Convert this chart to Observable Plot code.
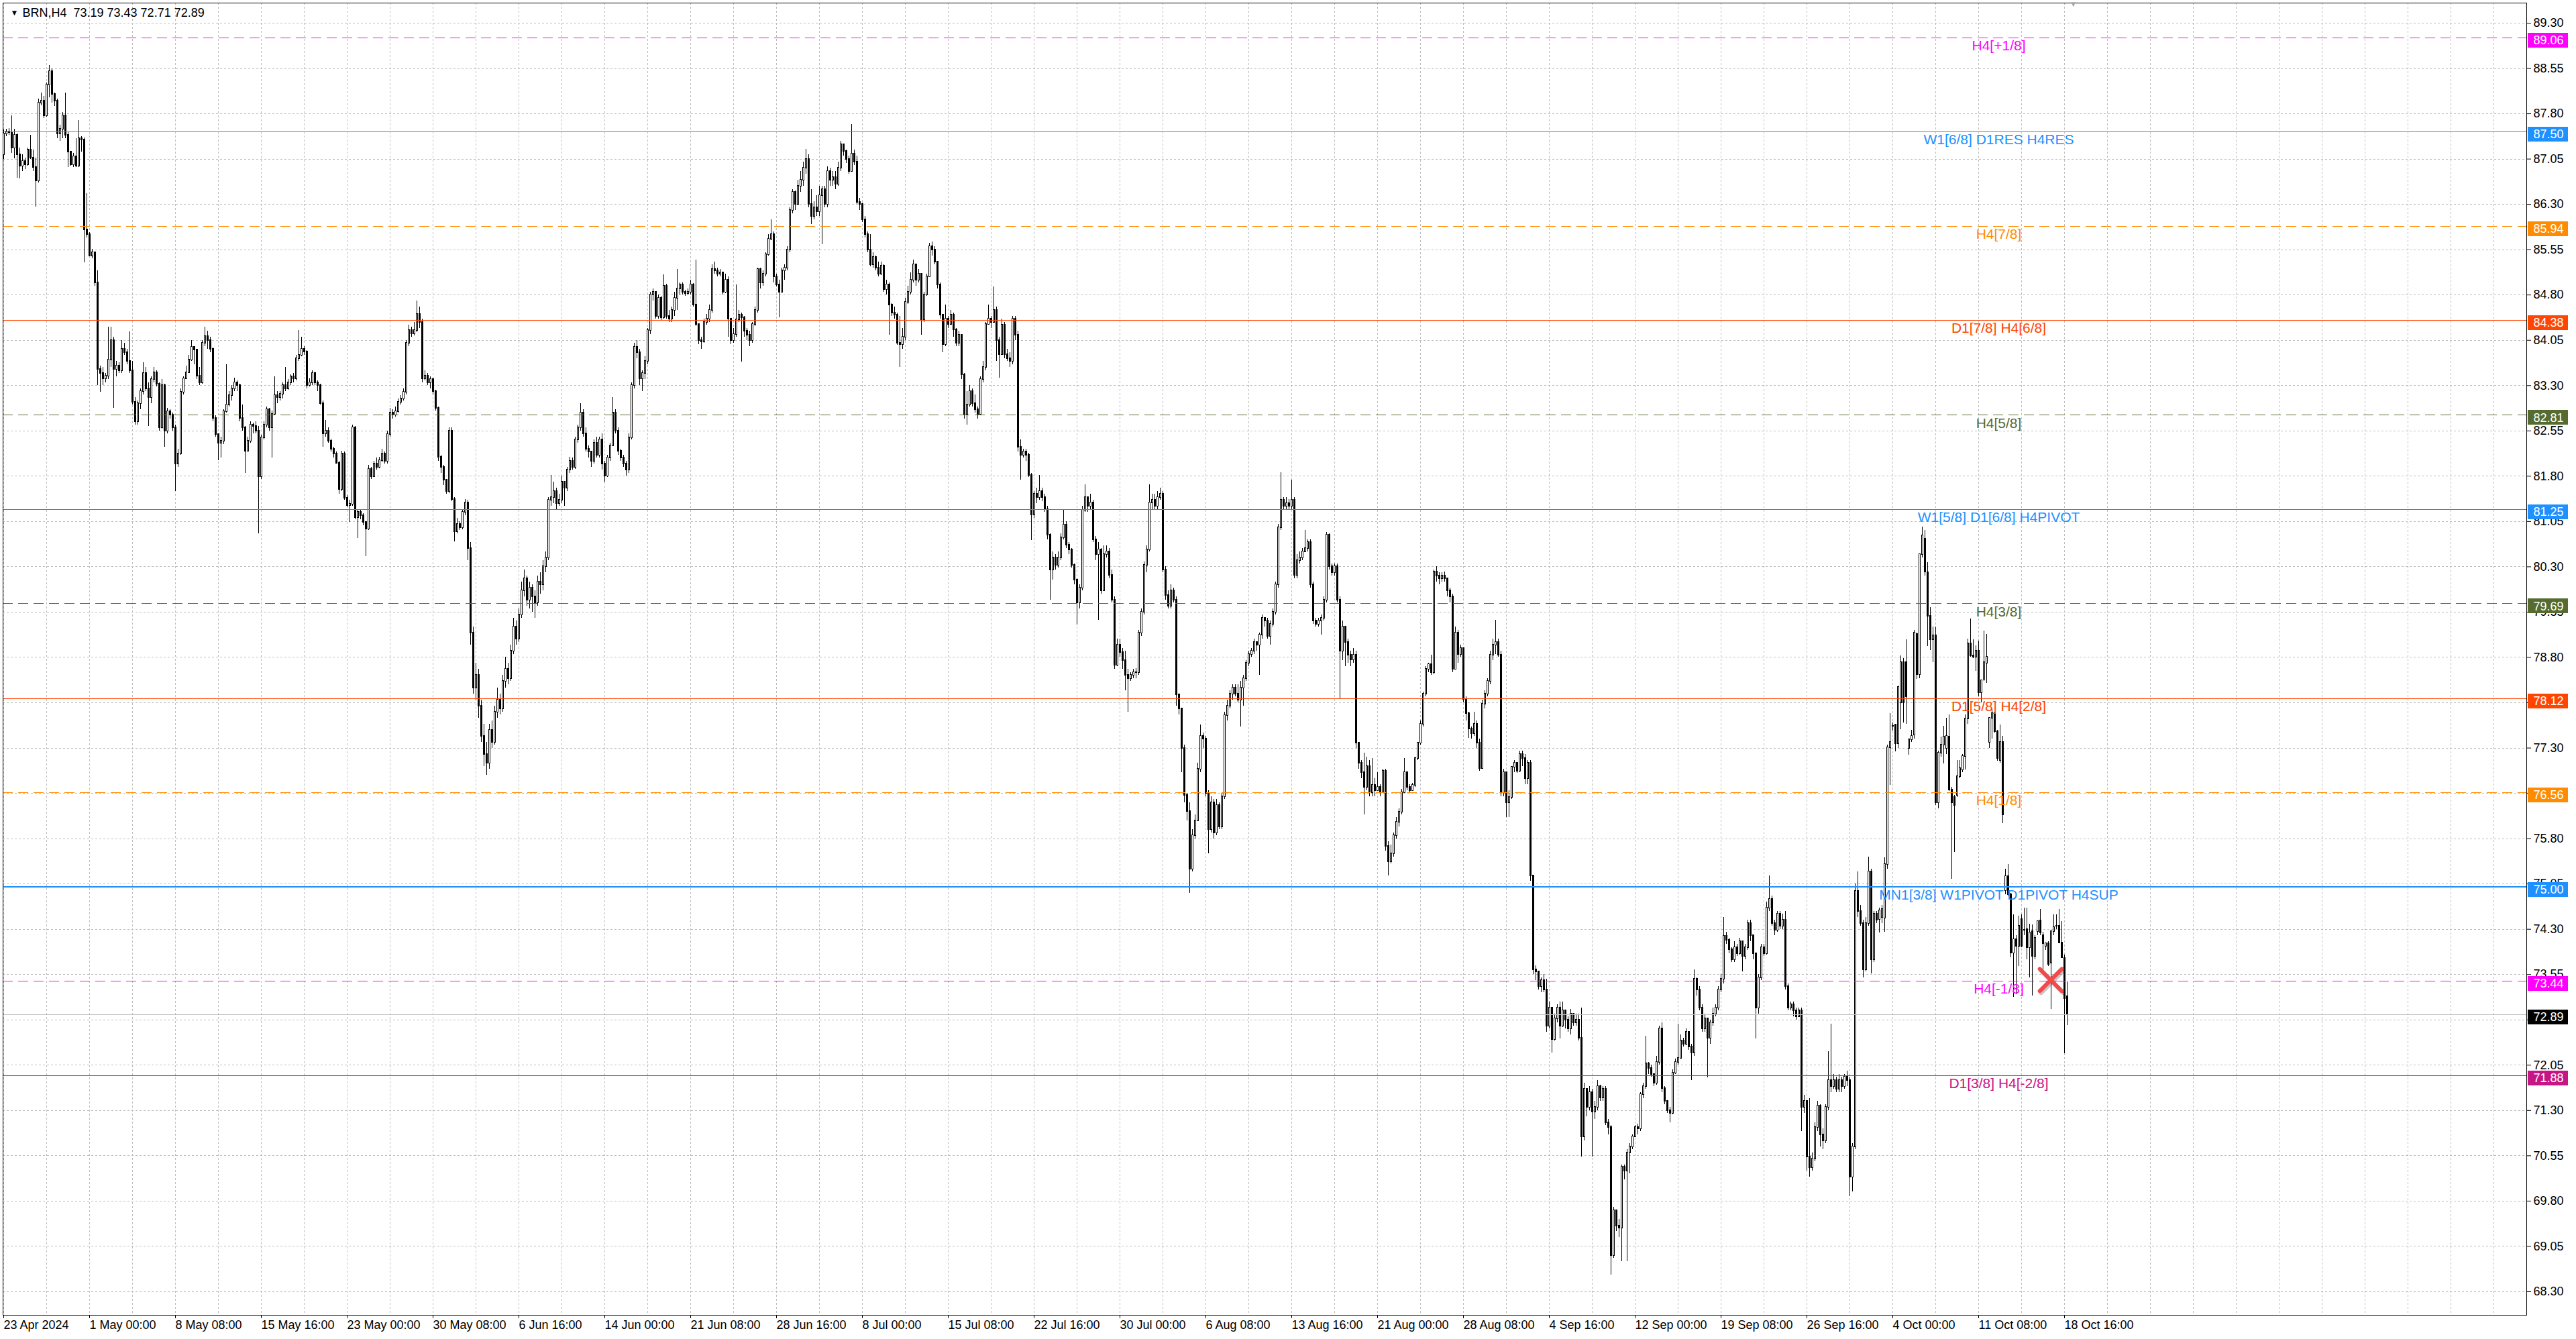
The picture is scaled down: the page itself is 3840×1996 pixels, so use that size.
<!DOCTYPE html>
<html><head><meta charset="utf-8">
<script src="https://cdn.jsdelivr.net/npm/d3@7"></script>
<script src="https://cdn.jsdelivr.net/npm/@observablehq/plot@0.6"></script>
<style>
html,body{margin:0;padding:0;background:#fff;}
#chart svg{display:block;}
</style></head><body><div id="chart"></div>
<script>
const symbolName = "BRN,H4";
const lastQuote = [73.19, 73.43, 72.71, 72.89];

// H4 candles, one row per bar: [open, high, low, close]
const ohlc = [
[87.12,87.53,87.05,87.47],[87.47,87.55,87.42,87.50],[87.50,87.56,87.44,87.49],[87.49,87.77,87.15,87.23],[87.23,87.55,87.06,87.44],
[87.44,87.47,86.74,87.12],[87.12,87.23,86.72,86.93],[86.93,87.12,86.85,87.01],[87.01,87.07,86.88,86.96],[86.96,87.23,86.93,87.20],
[87.20,87.44,87.04,87.07],[87.07,87.20,86.85,86.91],[86.91,87.07,86.26,86.69],[86.69,88.04,86.66,87.98],[87.98,88.14,87.93,88.01],
[88.01,88.09,87.72,87.77],[87.77,88.31,87.74,88.28],[88.28,88.60,88.07,88.50],[88.50,88.55,87.98,88.12],[88.12,88.15,87.92,88.01],
[88.01,88.04,87.39,87.47],[87.47,87.61,87.35,87.55],[87.55,87.82,87.39,87.77],[87.77,88.14,87.39,87.44],[87.44,87.50,86.91,87.17],
[87.17,87.17,86.93,86.96],[86.96,87.14,86.91,87.09],[87.09,87.39,86.91,86.93],[86.93,87.69,86.91,87.39],[87.39,87.42,87.17,87.37],
[87.37,87.40,85.34,85.88],[85.88,86.48,85.75,85.80],[85.80,85.83,85.43,85.45],[85.45,85.56,85.40,85.50],[85.50,85.51,84.95,85.00],
[85.00,85.20,83.30,83.57],[83.57,83.62,83.19,83.50],[83.50,83.60,83.30,83.41],[83.41,83.50,83.35,83.46],[83.46,84.27,83.40,83.73],
[83.73,84.27,83.60,84.05],[84.05,84.10,82.92,83.57],[83.57,83.70,83.45,83.62],[83.62,83.68,83.50,83.55],[83.55,84.05,83.50,83.90],
[83.90,84.00,83.80,83.85],[83.85,83.90,83.65,83.70],[83.70,84.19,83.50,83.55],[83.55,83.70,82.98,83.03],[83.03,83.10,82.65,82.70],
[82.70,83.05,82.65,83.00],[83.00,83.25,82.90,83.20],[83.20,83.68,83.15,83.50],[83.50,83.60,83.20,83.25],[83.25,83.35,82.62,83.10],
[83.10,83.45,83.00,83.40],[83.40,83.60,83.35,83.51],[83.51,83.55,83.28,83.33],[83.33,83.35,82.55,82.60],[82.60,83.40,82.58,83.30],
[83.30,83.32,82.28,82.55],[82.55,82.92,82.50,82.87],[82.87,82.90,82.75,82.81],[82.81,82.85,82.55,82.60],[82.60,82.65,81.55,82.00],
[82.00,82.25,81.95,82.17],[82.17,83.25,82.15,83.19],[83.19,83.45,83.15,83.41],[83.41,83.62,83.40,83.51],[83.51,83.80,83.50,83.73],
[83.73,84.05,83.70,83.94],[83.94,83.95,83.65,83.89],[83.89,83.90,83.40,83.46],[83.46,83.60,83.30,83.35],[83.35,84.05,83.33,84.00],
[84.00,84.27,83.95,84.11],[84.11,84.20,83.90,84.05],[84.05,84.10,83.85,83.90],[83.90,83.92,82.70,82.76],[82.76,82.80,82.45,82.49],
[82.49,82.50,82.06,82.35],[82.35,82.45,82.10,82.38],[82.38,82.90,82.33,82.87],[82.87,83.65,82.85,82.98],[82.98,83.20,82.95,83.14],
[83.14,83.30,83.05,83.25],[83.25,83.42,83.20,83.35],[83.35,83.38,83.20,83.30],[83.30,83.32,82.70,82.76],[82.76,82.98,82.55,82.60],
[82.60,82.62,81.85,82.22],[82.22,82.45,82.20,82.38],[82.38,82.70,82.35,82.65],[82.65,82.68,82.50,82.62],[82.62,82.70,82.50,82.55],
[82.55,82.62,80.85,81.79],[81.79,82.48,81.75,82.44],[82.44,82.70,82.40,82.65],[82.65,82.95,82.60,82.90],[82.90,82.92,82.55,82.60],
[82.60,82.88,82.10,82.83],[82.83,83.45,82.80,83.14],[83.14,83.20,83.00,83.10],[83.10,83.20,83.05,83.16],[83.16,83.35,83.08,83.30],
[83.30,83.60,83.20,83.25],[83.25,83.40,83.22,83.35],[83.35,83.48,83.30,83.45],[83.45,83.50,83.35,83.41],[83.41,83.80,83.38,83.75],
[83.75,84.21,83.70,83.80],[83.80,84.10,83.78,83.90],[83.90,83.95,83.80,83.86],[83.86,83.88,83.25,83.30],[83.30,83.41,83.28,83.35],
[83.35,83.55,83.30,83.50],[83.50,83.52,83.30,83.35],[83.35,83.38,83.20,83.30],[83.30,83.32,82.98,83.00],[83.00,83.05,82.28,82.50],
[82.50,82.72,82.45,82.55],[82.55,82.60,82.35,82.38],[82.38,82.42,82.20,82.25],[82.25,82.28,82.10,82.17],[82.17,82.20,82.00,82.01],
[82.01,82.05,81.50,81.58],[81.58,82.22,81.55,82.17],[82.17,82.20,81.40,81.44],[81.44,81.48,81.28,81.31],[81.31,81.40,81.04,81.34],
[81.34,82.65,81.30,82.60],[82.60,82.62,81.08,81.12],[81.12,81.25,80.77,81.20],[81.20,81.25,81.08,81.15],[81.15,81.18,80.98,81.04],
[81.04,81.05,80.47,80.93],[80.93,81.98,80.90,81.92],[81.92,81.95,81.75,81.79],[81.79,82.05,81.78,82.00],[82.00,82.10,81.90,81.95],
[81.95,82.12,81.93,82.06],[82.06,82.25,82.03,82.17],[82.17,82.20,82.00,82.05],[82.05,82.55,82.00,82.49],[82.49,82.92,82.45,82.85],
[82.85,82.90,82.75,82.81],[82.81,82.95,82.78,82.87],[82.87,83.08,82.85,83.03],[83.03,83.14,82.98,83.08],[83.08,83.25,83.05,83.19],
[83.19,84.05,83.15,84.00],[84.00,84.30,83.95,84.21],[84.21,84.27,84.10,84.16],[84.16,84.35,84.12,84.21],[84.21,84.70,84.18,84.48],
[84.48,84.60,84.25,84.35],[84.35,84.40,83.35,83.41],[83.41,83.55,83.38,83.46],[83.46,83.50,83.30,83.35],[83.35,83.45,83.25,83.40],
[83.40,83.42,83.15,83.20],[83.20,83.22,82.88,82.92],[82.92,82.95,82.05,82.11],[82.11,82.15,81.85,81.95],[81.95,81.98,81.65,81.74],
[81.74,81.75,81.50,81.55],[81.55,82.60,81.52,82.55],[82.55,82.60,81.38,81.42],[81.42,81.45,80.71,80.88],[80.88,81.10,80.85,81.00],
[81.00,81.05,80.90,80.95],[80.95,81.25,80.92,81.20],[81.20,81.42,81.15,81.36],[81.36,81.40,80.40,80.60],[80.60,80.70,79.00,79.20],
[79.20,79.30,78.20,78.30],[78.30,78.70,78.10,78.50],[78.50,78.60,77.80,78.00],[78.00,78.10,77.40,77.50],[77.50,77.70,77.00,77.20],
[77.20,77.40,76.85,77.05],[77.05,77.70,76.95,77.60],[77.60,77.75,77.30,77.40],[77.40,78.00,77.35,77.90],[77.90,78.30,77.80,78.10],
[78.10,78.20,77.85,77.95],[77.95,78.50,77.90,78.40],[78.40,78.80,78.30,78.60],[78.60,78.70,78.35,78.45],[78.45,79.00,78.40,78.90],
[78.90,79.45,78.85,79.30],[79.30,79.40,79.00,79.10],[79.10,79.60,79.05,79.50],[79.50,80.05,79.45,79.90],[79.90,80.25,79.80,80.10],
[80.10,80.15,79.65,79.75],[79.75,80.05,79.60,79.95],[79.95,80.00,79.55,79.80],[79.80,79.90,79.45,79.70],[79.70,80.15,79.65,80.05],
[80.05,80.20,79.85,80.00],[80.00,80.40,79.90,80.30],[80.30,80.55,80.20,80.45],[80.45,81.45,80.40,81.40],[81.40,81.82,81.30,81.45],
[81.45,81.70,81.35,81.55],[81.55,81.60,81.25,81.35],[81.35,81.50,81.30,81.40],[81.40,81.80,81.35,81.70],[81.70,81.72,81.30,81.60],
[81.60,81.95,81.55,81.90],[81.90,82.12,81.85,82.05],[82.05,82.10,81.90,81.95],[81.95,82.45,81.92,82.40],[82.40,82.65,82.35,82.60],
[82.60,83.00,82.55,82.85],[82.85,82.90,82.45,82.50],[82.50,82.60,82.20,82.25],[82.25,82.30,82.10,82.20],[82.20,82.22,81.95,82.05],
[82.05,82.40,82.00,82.35],[82.35,82.45,82.10,82.15],[82.15,82.45,82.10,82.40],[82.40,82.50,81.90,82.00],[82.00,82.05,81.70,81.80],
[81.80,82.15,81.78,82.10],[82.10,82.35,82.05,82.30],[82.30,83.10,82.30,82.85],[82.85,82.90,82.50,82.55],[82.55,82.60,82.15,82.22],
[82.22,82.25,82.05,82.10],[82.10,82.15,81.95,82.00],[82.00,82.05,81.80,81.90],[81.90,82.50,81.85,82.44],[82.44,83.35,82.40,83.30],
[83.30,84.00,83.25,83.94],[83.94,84.05,83.75,83.85],[83.85,83.90,83.30,83.41],[83.41,83.55,83.20,83.50],[83.50,83.78,83.40,83.70],
[83.70,84.25,83.65,84.21],[84.21,84.85,84.15,84.80],[84.80,84.90,84.70,84.85],[84.85,84.85,84.40,84.45],[84.45,84.80,84.40,84.75],
[84.75,84.78,84.38,84.43],[84.43,85.13,84.40,84.95],[84.95,84.98,84.40,84.45],[84.45,84.55,84.35,84.40],[84.40,84.60,84.35,84.55],
[84.55,84.85,84.45,84.75],[84.75,85.22,84.55,84.90],[84.90,85.00,84.80,84.97],[84.97,85.00,84.80,84.85],[84.85,84.88,84.78,84.82],
[84.82,84.90,84.80,84.85],[84.85,85.05,84.80,84.97],[84.97,84.99,84.60,84.64],[84.64,85.38,84.28,84.31],[84.31,84.31,83.98,84.05],
[84.05,84.10,83.90,84.02],[84.02,84.40,84.00,84.35],[84.35,84.48,84.30,84.40],[84.40,84.64,84.35,84.55],[84.55,85.30,84.50,85.22],
[85.22,85.35,85.15,85.20],[85.20,85.25,85.10,85.15],[85.15,85.22,85.10,85.17],[85.17,85.18,84.80,84.85],[84.85,85.15,84.82,85.05],
[85.05,85.10,84.10,84.40],[84.40,84.40,83.98,84.05],[84.05,84.25,84.00,84.15],[84.15,84.97,84.10,84.39],[84.39,84.55,84.35,84.47],
[84.47,84.50,83.69,84.43],[84.43,84.45,84.10,84.20],[84.20,84.25,84.05,84.14],[84.14,84.20,83.95,84.05],[84.05,84.35,84.00,84.31],
[84.31,84.60,84.28,84.55],[84.55,85.25,84.50,85.22],[85.22,85.25,84.90,85.00],[85.00,85.20,84.95,85.15],[85.15,85.50,85.10,85.47],
[85.47,85.80,85.45,85.72],[85.72,86.05,85.70,85.80],[85.80,85.85,85.00,85.10],[85.10,85.15,84.93,84.97],[84.97,85.05,84.43,84.85],
[84.85,85.25,84.85,85.20],[85.20,85.30,85.05,85.25],[85.25,85.60,85.20,85.55],[85.55,86.25,85.50,86.20],[86.20,86.55,86.15,86.50],
[86.50,86.52,86.20,86.30],[86.30,86.70,86.28,86.60],[86.60,86.85,86.50,86.70],[86.70,87.00,86.60,86.90],[86.90,87.21,86.80,87.05],
[87.05,87.12,86.25,86.30],[86.30,86.55,85.97,86.10],[86.10,86.35,86.05,86.25],[86.25,86.45,86.10,86.18],[86.18,86.60,86.10,86.45],
[86.45,86.60,85.63,86.55],[86.55,86.60,86.25,86.30],[86.30,86.92,86.25,86.85],[86.85,86.90,86.60,86.70],[86.70,86.85,86.60,86.75],
[86.75,86.85,86.55,86.63],[86.63,87.00,86.60,86.90],[86.90,87.35,86.85,87.29],[87.29,87.30,87.10,87.18],[87.18,87.20,86.98,87.05],
[87.05,87.10,86.80,86.85],[86.85,87.62,86.85,87.13],[87.13,87.20,86.95,87.00],[87.00,87.10,86.30,86.34],[86.34,86.40,86.20,86.30],
[86.30,86.32,86.00,86.05],[86.05,86.10,85.75,85.80],[85.80,85.85,85.50,85.55],[85.55,85.80,85.27,85.30],[85.30,85.50,85.25,85.42],
[85.42,85.45,85.20,85.25],[85.25,85.35,85.10,85.15],[85.15,85.35,85.12,85.28],[85.28,85.30,84.85,84.89],[84.89,85.05,84.80,84.97],
[84.97,85.00,84.14,84.64],[84.64,84.66,84.45,84.50],[84.50,84.60,84.40,84.47],[84.47,84.50,83.97,84.00],[84.00,84.45,83.60,83.98],
[83.98,84.25,83.90,84.10],[84.10,84.75,84.05,84.68],[84.68,84.95,84.65,84.85],[84.85,85.17,84.80,85.05],[85.05,85.38,85.00,85.30],
[85.30,85.30,84.95,85.05],[85.05,85.22,85.00,85.15],[85.15,85.15,84.14,84.39],[84.39,84.85,84.35,84.80],[84.80,85.15,84.78,85.10],
[85.10,85.66,85.10,85.60],[85.60,85.68,85.45,85.55],[85.55,85.60,85.30,85.35],[85.35,85.35,84.90,84.97],[84.97,85.00,84.40,84.47],
[84.47,84.47,83.85,83.98],[83.98,84.64,83.95,84.40],[84.40,84.45,84.25,84.31],[84.31,84.55,84.30,84.47],[84.47,84.50,84.10,84.22],
[84.22,84.25,83.95,84.00],[84.00,84.20,83.95,84.14],[84.14,84.15,83.40,83.48],[83.48,83.50,82.75,82.82],[82.82,83.20,82.65,82.98],
[82.98,83.30,82.95,83.20],[83.20,83.25,82.95,83.00],[83.00,83.15,82.85,82.90],[82.90,82.95,82.75,82.82],[82.82,83.45,82.80,83.40],
[83.40,83.70,83.35,83.60],[83.60,84.35,83.55,84.31],[84.31,84.64,84.30,84.40],[84.40,84.45,84.25,84.35],[84.35,84.93,84.35,84.55],
[84.55,84.60,83.70,84.05],[84.05,84.10,83.43,83.81],[83.81,84.40,83.80,84.30],[84.30,84.35,83.75,83.81],[83.81,83.90,83.70,83.75],
[83.75,83.85,83.60,83.70],[83.70,84.45,83.65,84.40],[84.40,84.45,84.05,84.14],[84.14,84.20,82.20,82.28],[82.28,82.40,81.74,82.15],
[82.15,82.25,82.10,82.20],[82.20,82.25,82.05,82.15],[82.15,82.18,81.78,81.82],[81.82,81.85,80.74,81.16],[81.16,81.55,81.10,81.50],
[81.50,81.60,81.35,81.45],[81.45,81.82,81.40,81.55],[81.55,81.60,81.38,81.45],[81.45,81.50,81.20,81.25],[81.25,81.30,80.75,80.83],
[80.83,80.85,79.75,80.25],[80.25,80.55,80.08,80.45],[80.45,80.50,80.25,80.33],[80.33,80.55,80.28,80.45],[80.45,80.85,80.40,80.78],
[80.78,81.24,80.75,80.99],[80.99,81.05,80.60,80.66],[80.66,80.70,80.50,80.58],[80.58,80.60,80.28,80.33],[80.33,80.35,80.00,80.08],
[80.08,80.10,79.34,79.71],[79.71,80.00,79.60,79.95],[79.95,81.30,79.90,81.24],[81.24,81.66,81.20,81.45],[81.45,81.45,81.20,81.30],
[81.30,81.50,81.25,81.36],[81.36,81.40,80.70,80.75],[80.75,80.80,80.40,80.50],[80.50,80.70,79.42,80.58],[80.58,80.60,79.85,79.90],
[79.90,80.65,79.90,80.50],[80.50,80.65,80.45,80.55],[80.55,80.60,80.10,80.16],[80.16,80.25,79.70,79.75],[79.75,79.80,78.60,78.67],
[78.67,79.10,78.65,79.00],[79.00,79.10,78.80,78.88],[78.88,78.95,78.60,78.75],[78.75,78.90,78.25,78.51],[78.51,78.60,77.89,78.45],
[78.45,78.55,78.40,78.50],[78.50,78.60,78.45,78.55],[78.55,78.62,78.45,78.55],[78.55,79.25,78.50,79.20],[79.20,79.60,79.15,79.55],
[79.55,80.38,79.50,80.33],[80.33,80.65,80.20,80.58],[80.58,81.66,80.55,81.36],[81.36,81.50,81.25,81.40],[81.40,81.50,81.25,81.30],
[81.30,81.55,81.25,81.45],[81.45,81.60,81.40,81.50],[81.50,81.55,80.20,80.25],[80.25,80.30,79.75,79.83],[79.83,79.90,79.60,79.65],
[79.65,80.00,79.60,79.90],[79.90,79.95,79.70,79.75],[79.75,79.80,78.00,78.18],[78.18,78.20,77.85,77.95],[77.95,77.95,76.90,77.30],
[77.30,77.35,76.40,76.52],[76.52,76.55,76.10,76.25],[76.25,76.40,74.90,75.30],[75.30,75.95,75.25,75.85],[75.85,76.20,75.80,76.10],
[76.10,77.05,76.10,76.95],[76.95,77.68,76.90,77.50],[77.50,77.55,77.30,77.45],[77.45,77.50,76.50,76.55],[76.55,76.60,75.55,75.95],
[75.95,76.50,75.90,76.40],[76.40,76.45,75.80,75.90],[75.90,76.45,75.85,76.35],[76.35,76.40,75.95,76.00],[76.00,76.55,75.95,76.50],
[76.50,77.90,76.45,77.84],[77.84,78.10,77.75,78.00],[78.00,78.25,77.95,78.20],[78.20,78.35,78.10,78.30],[78.30,78.35,78.15,78.20],
[78.20,78.35,78.05,78.10],[78.10,78.40,77.65,78.30],[78.30,78.50,78.00,78.45],[78.45,78.75,78.40,78.70],[78.70,78.90,78.65,78.85],
[78.85,78.95,78.80,78.90],[78.90,79.10,78.85,79.05],[79.05,79.05,78.90,79.00],[79.00,79.20,78.50,79.17],[79.17,79.50,79.10,79.45],
[79.45,79.45,79.30,79.40],[79.40,79.45,79.10,79.15],[79.15,79.40,79.00,79.35],[79.35,79.60,79.30,79.55],[79.55,80.05,79.50,80.00],
[80.00,81.00,79.95,80.95],[80.95,81.86,80.90,81.40],[81.40,81.45,81.25,81.30],[81.30,81.45,81.25,81.35],[81.35,81.42,81.25,81.30],
[81.30,81.74,81.25,81.40],[81.40,81.45,80.10,80.16],[80.16,80.50,80.10,80.40],[80.40,80.55,80.35,80.45],[80.45,80.60,80.40,80.55],
[80.55,80.90,80.55,80.60],[80.60,80.75,80.55,80.70],[80.70,80.75,79.95,80.00],[80.00,80.05,79.35,79.40],[79.40,79.45,79.30,79.35],
[79.35,79.45,79.30,79.40],[79.40,79.50,79.17,79.45],[79.45,79.80,79.40,79.75],[79.75,80.87,79.70,80.83],[80.83,80.85,80.25,80.30],
[80.30,80.35,80.15,80.20],[80.20,80.35,80.15,80.30],[80.30,80.35,79.70,79.75],[79.75,79.80,78.12,78.90],[78.90,79.40,78.75,79.30],
[79.30,79.30,78.65,79.05],[79.05,79.10,78.70,78.84],[78.84,78.90,78.65,78.76],[78.76,78.95,78.70,78.84],[78.84,78.90,77.30,77.38],
[77.38,77.40,76.95,77.05],[77.05,77.10,76.80,76.89],[76.89,77.22,76.20,76.65],[76.65,77.15,76.60,77.00],[77.00,77.10,76.50,76.56],
[76.56,77.13,76.50,76.68],[76.68,76.80,76.50,76.60],[76.60,76.90,76.58,76.65],[76.65,76.70,76.50,76.56],[76.56,76.95,76.55,76.92],
[76.92,76.95,75.60,75.67],[75.67,75.75,75.18,75.42],[75.42,75.70,75.38,75.55],[75.55,75.90,75.50,75.85],[75.85,76.15,75.80,76.07],
[76.07,76.30,76.00,76.24],[76.24,76.62,76.20,76.56],[76.56,77.13,76.55,76.89],[76.89,76.90,76.60,76.65],[76.65,76.70,76.55,76.60],
[76.60,76.72,76.58,76.68],[76.68,77.15,76.65,77.13],[77.13,77.40,77.10,77.38],[77.38,77.75,77.35,77.70],[77.70,78.23,77.65,78.19],
[78.19,78.65,78.15,78.60],[78.60,78.70,78.55,78.68],[78.68,78.84,78.50,78.55],[78.55,80.25,78.52,80.22],[80.22,80.31,80.05,80.15],
[80.15,80.20,80.00,80.10],[80.10,80.20,80.05,80.15],[80.15,80.22,80.05,80.10],[80.10,80.10,79.80,79.90],[79.90,79.95,79.70,79.80],
[79.80,79.85,78.55,78.60],[78.60,79.30,78.60,79.20],[79.20,79.25,78.70,78.85],[78.85,79.00,78.80,78.95],[78.95,78.95,78.05,78.11],
[78.11,78.15,77.75,77.87],[77.87,77.90,77.46,77.62],[77.62,77.65,77.45,77.54],[77.54,77.90,77.50,77.70],[77.70,77.75,77.30,77.38],
[77.38,77.45,76.92,76.96],[76.96,78.10,76.95,78.03],[78.03,78.25,77.95,78.19],[78.19,78.45,78.15,78.40],[78.40,78.90,78.35,78.84],
[78.84,79.10,78.75,79.00],[79.00,79.42,78.85,79.05],[79.05,79.10,78.80,78.84],[78.84,78.90,76.50,76.56],[76.56,76.95,76.50,76.89],
[76.89,76.90,76.15,76.40],[76.40,76.60,76.15,76.48],[76.48,77.00,76.45,76.98],[76.98,77.10,76.90,77.05],[77.05,77.05,76.88,76.92],
[76.92,77.25,76.90,77.20],[77.20,77.25,77.00,77.13],[77.13,77.20,76.70,76.80],[76.80,77.10,76.70,77.05],[77.05,77.10,75.10,75.18],
[75.18,75.20,73.55,73.63],[73.63,73.70,73.45,73.60],[73.60,73.60,73.30,73.35],[73.35,73.50,73.25,73.45],[73.45,73.55,73.25,73.30],
[73.30,73.47,72.60,72.70],[72.70,73.10,72.65,73.00],[73.00,73.00,72.25,72.48],[72.48,72.90,72.45,72.82],[72.82,73.05,72.75,73.00],
[73.00,73.10,72.49,72.70],[72.70,73.10,72.68,72.95],[72.95,72.95,72.65,72.80],[72.80,72.85,72.60,72.65],[72.65,72.98,72.55,72.90],
[72.90,72.90,72.70,72.75],[72.75,72.90,72.70,72.80],[72.80,72.90,72.45,72.50],[72.50,73.00,70.53,70.86],[70.86,71.75,70.80,71.65],
[71.65,71.65,71.20,71.35],[71.35,71.70,71.30,71.60],[71.60,71.65,70.53,71.28],[71.28,71.45,71.15,71.35],[71.35,71.80,71.30,71.70],
[71.70,71.72,71.45,71.51],[71.51,71.70,71.45,71.65],[71.65,71.70,71.05,71.10],[71.10,71.15,70.90,71.02],[71.02,71.05,68.58,68.90],
[68.90,69.70,68.85,69.64],[69.64,69.65,69.30,69.39],[69.39,69.50,69.20,69.35],[69.35,70.40,68.80,70.37],[70.37,70.40,70.15,70.30],
[70.30,70.65,68.80,70.60],[70.60,70.75,70.25,70.70],[70.70,70.90,70.65,70.86],[70.86,71.05,70.85,71.02],[71.02,71.08,70.90,71.00],
[71.00,71.60,70.95,71.57],[71.57,71.75,71.50,71.70],[71.70,72.53,71.65,72.07],[72.07,72.10,71.90,72.00],[72.00,72.05,71.85,71.90],
[71.90,71.90,71.70,71.75],[71.75,72.20,71.72,72.10],[72.10,72.70,72.05,72.65],[72.65,72.75,71.60,71.67],[71.67,71.70,71.40,71.45],
[71.45,71.45,71.25,71.30],[71.30,71.35,71.10,71.25],[71.25,71.98,71.23,71.92],[71.92,72.15,71.90,72.10],[72.10,72.73,72.05,72.16],
[72.16,72.55,72.15,72.45],[72.45,72.50,72.35,72.40],[72.40,72.65,72.38,72.60],[72.60,72.60,72.30,72.35],[72.35,72.40,71.80,72.25],
[72.25,73.63,72.20,73.47],[73.47,73.50,73.20,73.30],[73.30,73.35,72.95,73.00],[73.00,73.05,72.60,72.65],[72.65,72.90,72.60,72.82],
[72.82,72.82,71.84,72.50],[72.50,72.80,72.40,72.75],[72.75,73.00,72.70,72.90],[72.90,73.05,72.85,73.00],[73.00,73.35,72.95,73.30],
[73.30,73.55,73.25,73.47],[73.47,74.50,73.40,74.18],[74.18,74.25,74.05,74.12],[74.12,74.15,73.90,73.96],[73.96,74.00,73.75,73.80],
[73.80,74.10,73.75,74.00],[74.00,74.05,73.85,73.90],[73.90,74.15,73.88,74.10],[74.10,74.10,73.60,73.85],[73.85,74.05,73.80,74.00],
[74.00,74.45,73.95,74.40],[74.40,74.45,74.10,74.20],[74.20,74.20,73.80,73.90],[73.90,73.90,72.49,73.00],[73.00,73.55,72.90,73.50],
[73.50,74.05,73.45,74.00],[74.00,74.05,73.85,73.90],[73.90,74.75,73.88,74.65],[74.65,75.18,74.60,74.80],[74.80,74.85,74.35,74.40],
[74.40,74.45,74.20,74.28],[74.28,74.60,74.25,74.55],[74.55,74.60,74.30,74.35],[74.35,74.55,74.30,74.45],[74.45,74.60,73.30,73.35],
[73.35,73.40,72.95,73.00],[73.00,73.10,72.95,73.05],[73.05,73.10,72.85,72.95],[72.95,73.00,72.80,72.85],[72.85,73.00,72.85,72.95],
[72.95,73.00,70.95,71.35],[71.35,71.55,71.25,71.45],[71.45,71.45,70.30,70.53],[70.53,71.50,70.20,70.35],[70.35,70.60,70.30,70.50],
[70.50,71.10,70.45,71.02],[71.02,71.45,70.95,71.38],[71.38,71.40,70.70,70.90],[70.90,71.00,70.65,70.80],[70.80,71.40,70.75,71.35],
[71.35,72.28,71.30,71.80],[71.80,72.73,71.60,71.70],[71.70,71.90,71.65,71.80],[71.80,71.85,71.60,71.65],[71.65,71.90,71.60,71.80],
[71.80,71.85,71.60,71.70],[71.70,71.90,71.65,71.85],[71.85,71.95,71.70,71.80],[71.80,71.85,69.88,70.20],[70.20,70.75,69.95,70.70],
[70.70,75.05,70.65,74.93],[74.93,75.25,74.50,74.60],[74.60,74.70,74.35,74.40],[74.40,74.45,73.50,73.63],[73.63,74.50,73.60,74.40],
[74.40,75.50,74.35,75.25],[75.25,75.30,73.56,73.80],[73.80,74.60,73.75,74.55],[74.55,74.60,74.40,74.45],[74.46,74.65,74.24,74.61],
[74.50,74.70,74.40,74.63],[74.48,75.48,74.25,75.37],[75.37,77.35,75.30,77.31],[77.31,77.87,76.68,77.39],[77.66,77.72,77.58,77.66],
[77.68,77.70,77.24,77.37],[77.37,78.33,77.30,78.31],[78.05,78.83,77.61,78.72],[78.72,78.78,77.72,78.05],[78.72,79.09,77.70,78.15],
[77.29,77.44,77.18,77.44],[77.44,77.60,77.40,77.50],[77.52,79.25,77.45,79.20],[79.18,79.20,78.44,78.52],[78.52,80.50,78.45,80.50],
[80.50,80.96,80.45,80.81],[80.76,80.90,80.15,80.22],[80.20,80.37,78.98,79.48],[79.48,79.63,78.92,79.09],[79.09,79.31,78.72,79.16],
[79.16,79.31,76.35,76.39],[76.39,77.25,76.30,77.22],[77.22,77.48,77.15,77.35],[77.35,77.66,77.04,77.48],[77.29,77.79,77.20,77.50],
[77.48,77.85,76.58,76.61],[76.61,76.65,75.13,76.39],[76.48,76.52,75.57,76.35],[76.52,77.09,76.48,76.83],[76.83,77.09,76.80,76.96],
[76.94,77.20,76.90,77.16],[77.16,77.85,76.94,77.78],[77.78,79.11,77.70,79.03],[79.03,79.44,78.80,78.83],[78.83,79.09,78.78,78.81],
[78.81,78.99,78.57,78.90],[78.90,79.07,78.15,78.22],[78.22,78.43,78.05,78.42],[78.44,79.24,78.40,78.72],[78.70,79.18,78.37,78.81],
[77.40,77.80,77.30,77.79],[77.79,77.95,77.45,77.87],[77.87,77.90,77.55,77.57],[77.57,77.59,77.08,77.13],[77.09,77.68,77.05,77.40],
[77.40,77.50,76.05,76.20],[74.94,75.30,74.87,75.17],[75.17,75.37,74.85,74.87],[74.87,74.90,73.83,73.91],[73.91,74.54,73.17,74.13],
[74.13,74.20,73.22,74.02],[74.02,74.52,73.69,74.35],[74.46,74.54,74.00,74.02],[74.29,74.65,74.20,74.28],[74.30,74.65,73.80,74.00],
[74.00,74.39,73.50,74.24],[74.26,74.37,73.20,73.85],[73.85,74.20,73.80,74.15],[74.26,74.44,74.20,74.43],[74.44,74.63,74.20,74.24],
[74.20,74.25,73.61,74.06],[74.02,74.06,73.95,74.06],[74.06,74.10,73.69,73.72],[73.74,74.26,72.98,74.26],[74.26,74.54,74.20,74.33],
[74.35,74.54,74.30,74.35],[74.35,74.63,74.07,74.07],[74.07,74.43,73.82,73.83],[73.82,73.87,72.24,73.15],[73.19,73.43,72.71,72.89]
];

const dateLabels = ["23 Apr 2024","1 May 00:00","8 May 08:00","15 May 16:00","23 May 00:00","30 May 08:00","6 Jun 16:00","14 Jun 00:00","21 Jun 08:00","28 Jun 16:00","8 Jul 00:00","15 Jul 08:00","22 Jul 16:00","30 Jul 00:00","6 Aug 08:00","13 Aug 16:00","21 Aug 00:00","28 Aug 08:00","4 Sep 16:00","12 Sep 00:00","19 Sep 08:00","26 Sep 16:00","4 Oct 00:00","11 Oct 08:00","18 Oct 16:00"];
const barsPerLabel = 32;
const priceTicks = [68.30,69.05,69.80,70.55,71.30,72.05,72.80,73.55,74.30,75.05,75.80,76.55,77.30,78.05,78.80,79.55,80.30,81.05,81.80,82.55,83.30,84.05,84.80,85.55,86.30,87.05,87.80,88.55,89.30];

const levelPrices = [89.06, 87.50, 85.94, 84.38, 82.81, 81.25, 79.69, 78.12, 76.56, 75.00, 73.44, 71.88];
const levelNames = ["H4[+1/8]","W1[6/8] D1RES H4RES","H4[7/8]","D1[7/8] H4[6/8]","H4[5/8]","W1[5/8] D1[6/8] H4PIVOT","H4[3/8]","D1[5/8] H4[2/8]","H4[1/8]","MN1[3/8] W1PIVOT D1PIVOT H4SUP","H4[-1/8]","D1[3/8] H4[-2/8]"];
const levelColors = ["#ff00ff","#1e90ff","#ff8c00","#ff4500","#556b2f","#1e90ff","#556b2f","#ff4500","#ff8c00","#1e90ff","#ff00ff","#c71585"];
const levelDashed = [true,false,true,false,true,false,true,false,true,false,true,false];
const levelWidths = [1,1,1,1,1,1,1,1,1,2,1,1];
const bidPrice = 72.89;
const signal = {bar: 762.9, price: 73.46};

// layout (pixels per bar = 4)
const xDomain = [-0.25, 940.25];
const yDomain = [67.911, 89.633];
const labelBar = 743.5;

const bars = ohlc.map(([o,h,l,c], i) => ({i, o, h, l, c}));
const up = bars.filter(d => d.c >= d.o);
const down = bars.filter(d => d.c < d.o);
const levels = levelPrices.map((p, k) => ({p, name: levelNames[k], color: levelColors[k], dashed: levelDashed[k], w: levelWidths[k]}));
const tags = [...levels, {p: bidPrice, color: "#000000"}];
const gridBars = d3.range(0, xDomain[1], 16);
const labelBars = dateLabels.map((_, k) => k * barsPerLabel);

const font = "'Liberation Sans', Arial, sans-serif";
const crisp = "crispEdges";

const chart = Plot.plot({
  width: 3840, height: 1996,
  marginLeft: 4, marginRight: 74, marginTop: 4, marginBottom: 36,
  x: {domain: xDomain, axis: null},
  y: {domain: yDomain, axis: null},
  color: {type: "identity"},
  style: {fontFamily: font, fontSize: "18px", color: "#000", background: "#fff", overflow: "visible"},
  marks: [
    Plot.ruleY(priceTicks, {stroke: "#bcbcbc", strokeDasharray: "3,3", shapeRendering: crisp}),
    Plot.ruleX(gridBars, {stroke: "#bcbcbc", strokeDasharray: "3,3", shapeRendering: crisp}),
    Plot.ruleX(bars, {x: "i", y1: "l", y2: "h", stroke: "#000", shapeRendering: crisp}),
    Plot.rect(up, {x1: "i", x2: "i", y1: "o", y2: "c", fill: "#fff", stroke: "#000", insetLeft: -1, insetRight: -1, insetTop: -0.5, insetBottom: -0.5, shapeRendering: crisp}),
    Plot.rect(down, {x1: "i", x2: "i", y1: "o", y2: "c", fill: "#000", stroke: "#000", insetLeft: -1, insetRight: -1, insetTop: -0.5, insetBottom: -0.5, shapeRendering: crisp}),
    Plot.ruleY([bidPrice], {stroke: "#c0c0c0", shapeRendering: crisp}),
    Plot.ruleY(levels.filter(d => d.dashed), {y: "p", stroke: "color", strokeDasharray: "15,8", shapeRendering: crisp}),
    Plot.ruleY(levels.filter(d => !d.dashed), {y: "p", stroke: "color", strokeWidth: "w", shapeRendering: crisp}),
    Plot.text(levels, {x: () => labelBar, y: "p", text: "name", fill: "color", fontSize: 21, dy: 12, lineAnchor: "middle"}),
    Plot.dot([signal], {x: "bar", y: "price", symbol: "times", r: 15, stroke: "rgba(0,0,0,0.22)", strokeWidth: 6, strokeLinecap: "round", dx: 2, dy: 3}),
    Plot.dot([signal], {x: "bar", y: "price", symbol: "times", r: 15, stroke: "#f24a4a", strokeWidth: 6, strokeLinecap: "round"}),
    Plot.axisY(priceTicks, {anchor: "right", tickSize: 6, tickPadding: 4, tickFormat: d => d.toFixed(2), fontSize: 18, label: null}),
    Plot.axisX(labelBars, {anchor: "bottom", tickSize: 5, tickPadding: 3, tickFormat: d => dateLabels[d / barsPerLabel], textAnchor: "start", fontSize: 18, label: null}),
    Plot.rect(tags, {x1: () => xDomain[1], x2: () => xDomain[1], y1: "p", y2: "p", fill: "color", insetLeft: 2, insetRight: -62, insetTop: -7, insetBottom: -15, shapeRendering: crisp}),
    Plot.text(tags, {y: "p", text: d => d.p.toFixed(2), fill: "#fff", frameAnchor: "right", dx: 10, dy: 4, textAnchor: "start", fontSize: 18}),
    Plot.frame({stroke: "#000", shapeRendering: crisp}),
    Plot.text(["\u25BC"], {frameAnchor: "top-left", dx: 11, dy: 15, fontSize: 12, lineAnchor: "middle"}),
    Plot.text([symbolName + "\u00a0\u00a0" + lastQuote.map(v => v.toFixed(2)).join(" ")], {frameAnchor: "top-left", dx: 29, dy: 15, textAnchor: "start", lineAnchor: "middle", fontSize: 18}),
    Plot.text(["\u25BC"], {x: () => ohlc.length + 1.3, frameAnchor: "top", dy: 2, fontSize: 12, fill: "#a8a8a8", lineAnchor: "middle"})
  ]
});
document.getElementById("chart").appendChild(chart);
</script></body></html>
